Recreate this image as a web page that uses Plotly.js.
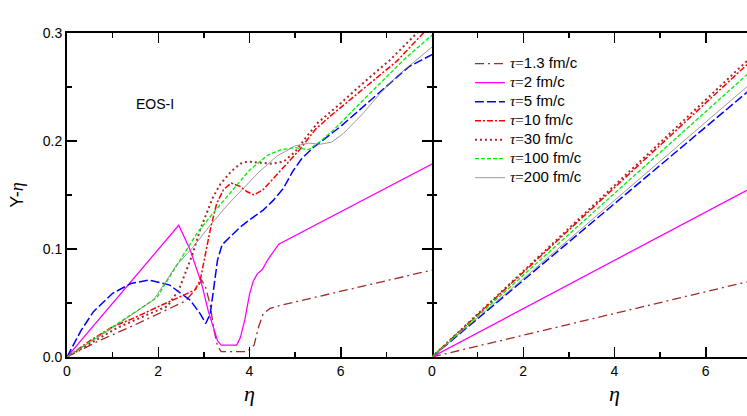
<!DOCTYPE html>
<html>
<head>
<meta charset="utf-8">
<script src="https://cdn.plot.ly/plotly-3.0.1.min.js"></script>
<style>
html,body{margin:0;padding:0;overflow:hidden;background:#fff;width:747px;height:416px;}
#chart{width:797px;height:416px;}
</style>
</head>
<body>
<div id="chart"></div>
<script>
// ---- Data ----
const seriesNames = ['1.3', '2', '5', '10', '30', '100', '200'];

// Left panel (EOS-I) curves: eta, Y-eta
const eta_13 = [0, 0.7, 1.5, 2.0, 2.6, 2.85, 2.95, 3.03, 3.14, 3.22, 3.3, 3.38, 3.95, 4.1, 4.2, 4.3, 4.45, 4.7, 8];
const y_13   = [0, 0.015, 0.030, 0.040, 0.052, 0.064, 0.071, 0.066, 0.048, 0.025, 0.010, 0.005, 0.005, 0.011, 0.028, 0.040, 0.045, 0.048, 0.0805];

const eta_2 = [0, 2.45, 2.7, 2.95, 3.1, 3.22, 3.3, 3.38, 3.72, 3.8, 3.9, 4.0, 4.08, 4.17, 4.28, 4.4, 4.5, 4.64, 8];
const y_2   = [0, 0.122, 0.099, 0.068, 0.042, 0.025, 0.015, 0.011, 0.011, 0.018, 0.035, 0.058, 0.070, 0.077, 0.081, 0.090, 0.096, 0.1045, 0.1786];

const eta_5 = [0, 0.3, 0.58, 1.0, 1.4, 1.8, 2.25, 2.7, 2.92, 3.04, 3.14, 3.21, 3.3, 3.4, 3.57, 3.79, 4.0, 4.3, 4.52, 4.74, 4.95, 5.15, 5.4, 5.7, 6.0, 6.5, 7.0, 7.5, 8.0];
const y_5   = [0, 0.024, 0.042, 0.059, 0.068, 0.0712, 0.0666, 0.0526, 0.040, 0.031, 0.040, 0.062, 0.090, 0.104, 0.111, 0.120, 0.127, 0.136, 0.145, 0.156, 0.172, 0.184, 0.194, 0.204, 0.2136, 0.232, 0.2507, 0.269, 0.280];

const eta_10 = [0, 0.5, 1.0, 1.46, 1.97, 2.48, 2.8, 2.92, 3.03, 3.14, 3.28, 3.43, 3.6, 3.79, 3.95, 4.1, 4.3, 4.52, 4.8, 5.1, 5.3, 5.45, 5.77, 6.2, 6.64, 7.23, 7.81, 8];
const y_10   = [0, 0.015, 0.028, 0.036, 0.046, 0.056, 0.062, 0.071, 0.095, 0.118, 0.142, 0.155, 0.161, 0.158, 0.153, 0.150, 0.155, 0.165, 0.178, 0.192, 0.203, 0.211, 0.223, 0.238, 0.254, 0.274, 0.300, 0.307];

const eta_30 = [0, 0.5, 1.1, 1.75, 2.2, 2.45, 2.62, 2.75, 2.92, 3.06, 3.2, 3.36, 3.6, 3.8, 3.95, 4.2, 4.5, 4.75, 5.0, 5.25, 5.5, 6.0, 6.5, 7.08, 7.67, 8];
const y_30   = [0, 0.012, 0.027, 0.039, 0.047, 0.062, 0.080, 0.095, 0.118, 0.133, 0.148, 0.160, 0.172, 0.179, 0.181, 0.180, 0.179, 0.181, 0.190, 0.204, 0.217, 0.235, 0.254, 0.275, 0.300, 0.312];

const eta_100 = [0, 1.0, 1.97, 2.26, 2.55, 2.84, 3.1, 3.4, 3.6, 4.0, 4.4, 4.7, 5.0, 5.3, 5.55, 5.84, 6.28, 6.8, 7.4, 8];
const y_100   = [0, 0.028, 0.055, 0.075, 0.095, 0.114, 0.128, 0.143, 0.154, 0.173, 0.187, 0.192, 0.1938, 0.192, 0.1996, 0.210, 0.229, 0.251, 0.276, 0.298];

const eta_200 = [0, 1.0, 1.9, 2.1, 2.4, 2.77, 3.1, 3.5, 3.9, 4.2, 4.6, 5.0, 5.3, 5.55, 5.8, 6.06, 6.5, 6.86, 7.23, 7.6, 8];
const y_200   = [0, 0.027, 0.053, 0.066, 0.085, 0.102, 0.120, 0.140, 0.158, 0.171, 0.186, 0.1955, 0.198, 0.197, 0.199, 0.207, 0.226, 0.244, 0.260, 0.273, 0.287];

// Right panel: straight lines, eta and Y-eta at the ends
const etaR = [0, 8];
const yR_13  = [0, 0.0806];
const yR_2   = [0, 0.179];
const yR_5   = [0, 0.284];
const yR_10  = [0, 0.3137];
const yR_30  = [0, 0.3176];
const yR_100 = [0, 0.303];
const yR_200 = [0, 0.290];

const xTickVals = [0, 2, 4, 6, 8];
const xTickTextL = ['0', '2', '4', '6', ''];
const xTickTextR = ['0', '2', '4', '6', '8'];
const yTickVals = [0, 0.1, 0.2, 0.3];

// ---- Styles ----
const styles = [
  {color: '#a52a2a', dash: '9px,4px,2px,4px', width: 1.3},
  {color: '#ff00ff', dash: 'solid', width: 1.3},
  {color: '#0000ff', dash: '9px,3px', width: 1.5},
  {color: '#ff0000', dash: '6px,2px,2px,2px', width: 1.5},
  {color: '#a52a2a', dash: '2px,3px', width: 2},
  {color: '#00ee00', dash: '4px,2px', width: 1.3},
  {color: '#808080', dash: 'solid', width: 0.8}
];

const leftX = [eta_13, eta_2, eta_5, eta_10, eta_30, eta_100, eta_200];
const leftY = [y_13, y_2, y_5, y_10, y_30, y_100, y_200];
const rightY = [yR_13, yR_2, yR_5, yR_10, yR_30, yR_100, yR_200];

const serif = 'Liberation Serif, Times New Roman, serif';
const sans = 'Liberation Sans, Arial, sans-serif';

const traces = [];
seriesNames.forEach((n, i) => {
  traces.push({
    x: leftX[i], y: leftY[i], xaxis: 'x', yaxis: 'y', mode: 'lines',
    name: '<span style="font-size:15px"><span style="font-family:' + serif + '"><i>τ</i>=</span>' + n + ' fm/c</span>',
    line: {color: styles[i].color, dash: styles[i].dash, width: styles[i].width},
    showlegend: true, hoverinfo: 'skip'
  });
});
seriesNames.forEach((n, i) => {
  traces.push({
    x: etaR, y: rightY[i], xaxis: 'x2', yaxis: 'y2', mode: 'lines',
    line: {color: styles[i].color, dash: styles[i].dash, width: styles[i].width},
    showlegend: false, hoverinfo: 'skip'
  });
});

const axBase = {
  showline: true, linewidth: 2, linecolor: '#000', mirror: 'allticks',
  ticks: 'inside', ticklen: 10, tickwidth: 1.5, tickcolor: '#000',
  showgrid: false, zeroline: false,
  tickfont: {family: sans, size: 14, color: '#000'}
};

const layout = {
  width: 797, height: 416,
  margin: {l: 67, r: 0, t: 33, b: 59},
  paper_bgcolor: '#fff', plot_bgcolor: '#fff',
  showlegend: true,
  legend: {
    x: 0.552, y: 0.95, xanchor: 'left', yanchor: 'top',
    bgcolor: 'rgba(0,0,0,0)', borderwidth: 0,
    font: {family: sans, size: 11, color: '#000'},
    tracegroupgap: 0
  },
  xaxis: Object.assign({}, axBase, {
    domain: [0, 0.5], range: [0, 8], tickmode: 'array', tickvals: xTickVals, ticktext: xTickTextL,
    minor: {ticks: 'inside', ticklen: 5, dtick: 1, tickwidth: 1.5, tickcolor: '#000'},
    anchor: 'y',
    title: {text: '<i>η</i>', font: {family: serif, size: 22, color: '#000'}, standoff: 8}
  }),
  yaxis: Object.assign({}, axBase, {
    domain: [0, 1], range: [0, 0.3], tickmode: 'array', tickvals: yTickVals, tickformat: '.1f',
    minor: {ticks: 'inside', ticklen: 5, dtick: 0.05, tickwidth: 1.5, tickcolor: '#000'},
    anchor: 'x',
    title: {text: 'Y-<span style="font-family:' + serif + '"><i>η</i></span>', font: {family: sans, size: 18, color: '#000'}, standoff: 14}
  }),
  xaxis2: Object.assign({}, axBase, {
    domain: [0.5, 1], range: [0, 8], tickmode: 'array', tickvals: xTickVals, ticktext: xTickTextR,
    minor: {ticks: 'inside', ticklen: 5, dtick: 1, tickwidth: 1.5, tickcolor: '#000'},
    anchor: 'y2',
    title: {text: '<i>η</i>', font: {family: serif, size: 22, color: '#000'}, standoff: 8}
  }),
  yaxis2: Object.assign({}, axBase, {
    showline: false,
    domain: [0, 1], range: [0, 0.3], tickmode: 'array', tickvals: yTickVals, showticklabels: false,
    minor: {ticks: 'inside', ticklen: 5, dtick: 0.05, tickwidth: 1.5, tickcolor: '#000'},
    anchor: 'x2'
  }),
  annotations: [
    {x: 1.93, y: 0.2346, xref: 'x', yref: 'y', text: 'EOS-I', showarrow: false,
     font: {family: sans, size: 14, color: '#000'}}
  ]
};

Plotly.newPlot('chart', traces, layout, {staticPlot: true, displayModeBar: false});
</script>
</body>
</html>
